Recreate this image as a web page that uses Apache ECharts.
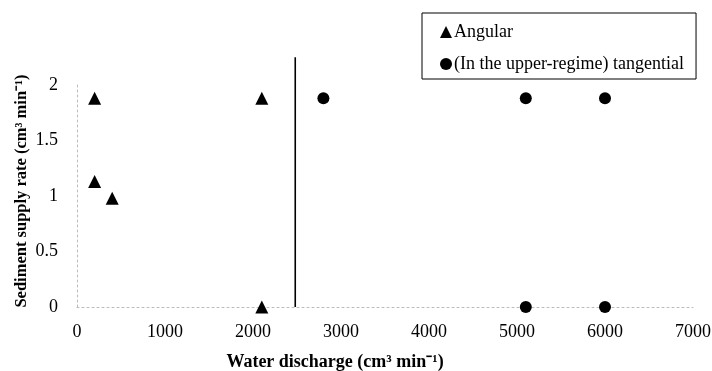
<!DOCTYPE html>
<html><head><meta charset="utf-8">
<script src="https://cdn.jsdelivr.net/npm/echarts@6/dist/echarts.min.js"></script>
<style>html,body{margin:0;padding:0;background:#fff}#c{width:712px;height:371px}</style>
</head><body><div id="c"></div>
<script>
const angularX = [200, 200, 400, 2100, 2100];
const angularY = [1.88, 1.13, 0.98, 1.88, 0];
const tangentialX = [2800, 5100, 6000, 5100, 6000];
const tangentialY = [1.88, 1.88, 1.88, 0, 0];
const boundaryX = [2480, 2480];
const boundaryY = [0, 2.25];
const xTicks = [0, 1000, 2000, 3000, 4000, 5000, 6000, 7000];
const yTicks = [0, 0.5, 1, 1.5, 2];
const seriesNames = ['Angular', '(In the upper-regime) tangential'];

const zip = (a, b) => a.map((v, i) => [v, b[i]]);
const serif = '"Liberation Serif", "Times New Roman", serif';
const chart = echarts.init(document.getElementById('c'));
chart.setOption({
  animation: false,
  backgroundColor: '#fff',
  grid: { left: 77, right: 19, top: 85, bottom: 64, containLabel: false, outerBoundsMode: 'none' },
  legend: {
    orient: 'vertical', left: 422, top: 13,
    padding: [9, 12, 5, 18], itemGap: 12,
    borderColor: '#000', borderWidth: 1, borderRadius: 0,
    itemWidth: 12, itemHeight: 12,
    textStyle: { fontFamily: serif, fontSize: 18, color: '#000', lineHeight: 20, padding: [0, 0, 0, -3] },
    data: [{ name: seriesNames[0], icon: 'triangle' }, { name: seriesNames[1], icon: 'circle' }]
  },
  xAxis: {
    type: 'value', min: xTicks[0], max: xTicks[xTicks.length - 1], interval: 1000,
    name: 'Water discharge (cm³ min⁻¹)', nameLocation: 'middle', nameGap: 46,
    nameTextStyle: { fontFamily: serif, fontSize: 18, fontWeight: 'bold', color: '#000', padding: [0, 100, 0, 0] },
    axisLine: { show: true, onZero: false, lineStyle: { color: '#bbb', type: [2, 3], width: 1 } },
    axisTick: { show: false },
    splitLine: { show: false },
    axisLabel: { fontFamily: serif, fontSize: 18, color: '#000', margin: 16, formatter: v => String(v) }
  },
  yAxis: {
    type: 'value', min: yTicks[0], max: yTicks[yTicks.length - 1], interval: 0.5,
    name: 'Sediment supply rate (cm³ min⁻¹)', nameLocation: 'middle', nameGap: 47, nameMoveOverlap: false,
    nameTextStyle: { fontFamily: serif, fontSize: 16.5, fontWeight: 'bold', color: '#000', padding: [0, 0, 0, 10] },
    axisLine: { show: true, lineStyle: { color: '#bbb', type: [2, 3], width: 1 } },
    axisTick: { show: false },
    splitLine: { show: false },
    axisLabel: { fontFamily: serif, fontSize: 18, color: '#000', margin: 19 }
  },
  series: [
    { name: seriesNames[0], type: 'scatter', symbol: 'triangle', symbolSize: 13,
      itemStyle: { color: '#000', opacity: 1 }, data: zip(angularX, angularY), clip: false },
    { name: seriesNames[1], type: 'scatter', symbol: 'circle', symbolSize: 12,
      itemStyle: { color: '#000', opacity: 1 }, data: zip(tangentialX, tangentialY), clip: false },
    { name: 'boundary', type: 'line', symbol: 'none', clip: false, silent: true,
      lineStyle: { color: '#000', width: 1.6 }, data: zip(boundaryX, boundaryY) }
  ]
});
</script></body></html>
